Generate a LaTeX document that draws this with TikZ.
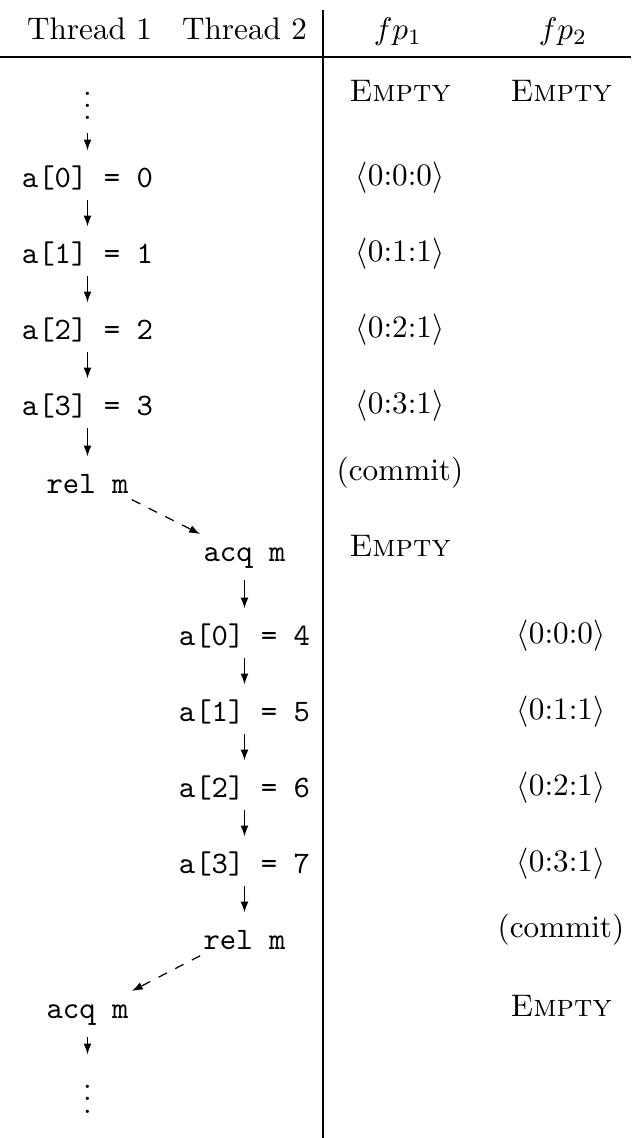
\documentclass[tikz,border=0pt]{standalone}
\usepackage{tikz}
\usetikzlibrary{arrows.meta}

\begin{document}
\begin{tikzpicture}[
  x=0.3205pt, y=-0.3205pt,
  code/.style={font=\ttfamily, inner sep=0pt, text height=8pt, text depth=1.5pt, anchor=base},
  acqcode/.style={code, text depth=3.5pt},
  dotsnode/.style={inner sep=0pt, text depth=1.5pt, anchor=base},
  cell/.style={inner sep=0pt, anchor=base},
  hb/.style={-{Latex[length=3.5pt,width=2.5pt]}, shorten <=2.5pt, shorten >=3.5pt},
  sync/.style={-{Latex[length=3.5pt,width=2.5pt]}, dashed, shorten <=1pt, shorten >=1pt}
]
\useasboundingbox (0,0) rectangle (631,1138);

% table rules
\draw (0,57) -- (631,57);
\draw (323,10) -- (323,1138);
\draw[line width=0.6pt] (322.6,65) -- (322.6,95);

% header
\node[cell] (th1) at (89.5,40) {Thread 1};
\node[cell] (th2) at (244.5,40) {Thread 2};
\node[cell] (hfp1) at (398,40) {$fp_1$};
\node[cell] (hfp2) at (563,40) {$fp_2$};

% thread 1
\node[dotsnode] (t1top) at (87.5,120) {\vdots};
\node[code] (t1a0) at (87.5,187) {a[0] = 0};
\node[code] (t1a1) at (87.5,263) {a[1] = 1};
\node[code] (t1a2) at (87.5,339) {a[2] = 2};
\node[code] (t1a3) at (87.5,415) {a[3] = 3};
\node[code] (t1rel) at (87.5,493) {rel m};

% thread 2
\node[acqcode] (t2acq) at (244.5,561) {acq m};
\node[code] (t2a0) at (244.5,645) {a[0] = 4};
\node[code] (t2a1) at (244.5,721) {a[1] = 5};
\node[code] (t2a2) at (244.5,797) {a[2] = 6};
\node[code] (t2a3) at (244.5,873) {a[3] = 7};
\node[code] (t2rel) at (244.5,949) {rel m};

% thread 1 again
\node[acqcode] (t1acq) at (87.5,1018) {acq m};
\node[dotsnode] (t1end) at (87.5,1113) {\vdots};

% footprint of thread 1
\node[cell] (fpa0) at (400,101) {\textsc{Empty}};
\node[cell] (fpa1) at (400,185) {$\langle 0{:}0{:}0\rangle$};
\node[cell] (fpa2) at (400,261) {$\langle 0{:}1{:}1\rangle$};
\node[cell] (fpa3) at (400,337) {$\langle 0{:}2{:}1\rangle$};
\node[cell] (fpa4) at (400,413) {$\langle 0{:}3{:}1\rangle$};
\node[cell] (fpa5) at (400,480) {(commit)};
\node[cell] (fpa6) at (400,556) {\textsc{Empty}};

% footprint of thread 2
\node[cell] (fpb0) at (561,101) {\textsc{Empty}};
\node[cell] (fpb1) at (561,643) {$\langle 0{:}0{:}0\rangle$};
\node[cell] (fpb2) at (561,719) {$\langle 0{:}1{:}1\rangle$};
\node[cell] (fpb3) at (561,795) {$\langle 0{:}2{:}1\rangle$};
\node[cell] (fpb4) at (561,871) {$\langle 0{:}3{:}1\rangle$};
\node[cell] (fpb5) at (561,937) {(commit)};
\node[cell] (fpb6) at (561,1016) {\textsc{Empty}};

% program order
\draw[hb] (t1top) -- (t1a0);
\draw[hb] (t1a0) -- (t1a1);
\draw[hb] (t1a1) -- (t1a2);
\draw[hb] (t1a2) -- (t1a3);
\draw[hb] (t1a3) -- (t1rel);
\draw[hb] (t2acq) -- (t2a0);
\draw[hb] (t2a0) -- (t2a1);
\draw[hb] (t2a1) -- (t2a2);
\draw[hb] (t2a2) -- (t2a3);
\draw[hb] (t2a3) -- (t2rel);
\draw[hb] (t1acq) -- (t1end);

% synchronisation
\draw[sync] (t1rel.south east) -- (t2acq.north west);
\draw[sync] (t2rel.south west) -- (t1acq.north east);
\end{tikzpicture}
\end{document}
